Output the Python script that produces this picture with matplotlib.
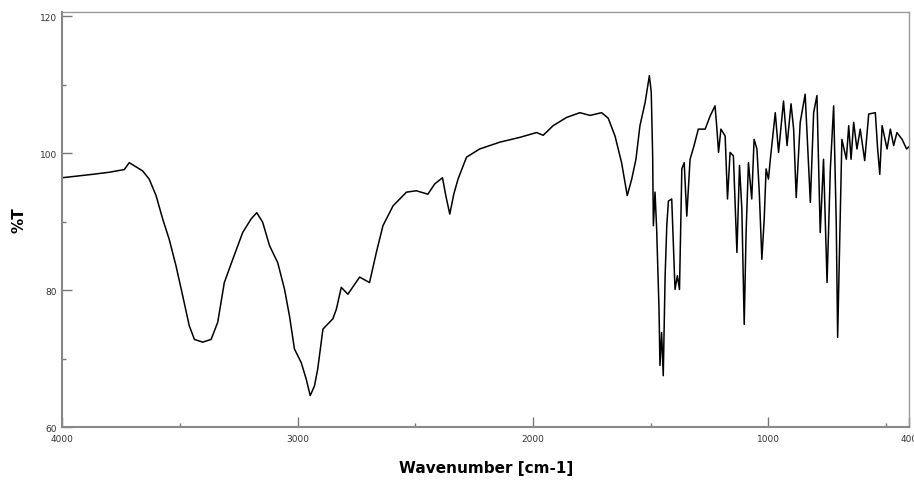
import matplotlib
matplotlib.use("Agg")
import matplotlib.pyplot as plt

# IR spectrum
wavenumber = [
    4000, 3871, 3800, 3736, 3715, 3658, 3630, 3601, 3573, 3545, 3516, 3488,
    3460, 3438, 3403, 3367, 3339, 3311, 3275, 3233, 3197, 3173, 3148, 3119,
    3084, 3055, 3034, 3013, 2984, 2963, 2946, 2928, 2914, 2892, 2864, 2850,
    2835, 2814, 2786, 2736, 2694, 2665, 2637, 2594, 2537, 2495, 2446, 2417,
    2384, 2370, 2353, 2336, 2318, 2282, 2226, 2140, 2055, 1984, 1956, 1914,
    1857, 1800, 1757, 1708, 1680, 1651, 1623, 1599, 1580, 1562, 1545, 1523,
    1505, 1497, 1491, 1488, 1481, 1474, 1464, 1460, 1453, 1446, 1438, 1431,
    1424, 1410, 1396, 1386, 1377, 1367, 1357, 1346, 1332, 1315, 1297, 1268,
    1247, 1226, 1219, 1211, 1201, 1183, 1173, 1162, 1148, 1133, 1122, 1112,
    1102, 1094, 1084, 1070, 1060, 1048, 1038, 1027, 1017, 1009, 999, 991,
    970, 956, 935, 920, 903, 892, 881, 864, 843, 821, 807, 793,
    779, 765, 750, 736, 722, 711, 705, 694, 687, 668, 658, 648,
    637, 623, 609, 590, 573, 545, 535, 526, 516, 495, 481, 467,
    453, 431, 412, 400,
]
transmittance = [
    96.4, 96.9, 97.2, 97.6, 98.6, 97.4, 96.2, 93.8, 90.4, 87.4, 83.5, 79.2,
    74.8, 72.8, 72.4, 72.8, 75.3, 81.1, 84.5, 88.4, 90.4, 91.3, 89.9, 86.5,
    84.0, 80.1, 76.2, 71.4, 69.4, 67.0, 64.6, 66.0, 68.5, 74.3, 75.3, 75.8,
    77.2, 80.4, 79.4, 81.9, 81.1, 85.5, 89.4, 92.3, 94.3, 94.5, 94.0, 95.5,
    96.4, 93.8, 91.1, 94.0, 96.2, 99.4, 100.6, 101.6, 102.3, 103.0, 102.6, 104.0,
    105.2, 105.9, 105.5, 105.9, 105.1, 102.5, 98.6, 93.8, 96.2, 99.1, 104.0, 107.4,
    111.3, 108.9, 99.6, 89.4, 94.3, 88.9, 77.2, 69.0, 73.8, 67.5, 82.1, 89.4,
    93.0, 93.3, 80.1, 82.1, 80.1, 97.7, 98.6, 90.8, 99.1, 101.1, 103.5, 103.5,
    105.4, 106.9, 104.0, 100.1, 103.5, 102.5, 93.3, 100.1, 99.6, 85.5, 98.2, 91.8,
    75.0, 88.4, 98.6, 93.3, 102.0, 100.6, 94.3, 84.5, 90.4, 97.7, 96.2, 99.1,
    105.9, 100.1, 107.6, 101.1, 107.2, 103.5, 93.5, 104.5, 108.6, 92.8, 105.9, 108.4,
    88.4, 99.1, 81.1, 97.7, 106.9, 89.9, 73.1, 90.4, 102.0, 99.1, 104.0, 99.1,
    104.5, 100.6, 103.5, 98.9, 105.7, 105.9, 100.6, 96.9, 104.0, 100.6, 103.5, 101.1,
    103.0, 102.0, 100.6, 101.0,
]

x_major = [4000, 3000, 2000, 1000, 400]
x_minor = [3500, 2500, 1500, 500]
y_major = [60, 80, 100, 120]
y_minor = [70, 90, 110]

fig = plt.figure(figsize=(9.14, 4.81), dpi=100)
ax = fig.add_axes([0.068, 0.110, 0.927, 0.863])

ax.plot(wavenumber, transmittance, color="black", linewidth=1.1)

ax.set_xlim(4000, 400)
ax.set_ylim(60, 120.6)

ax.set_xticks(x_major)
ax.set_xticks(x_minor, minor=True)
ax.set_yticks(y_major)
ax.set_yticks(y_minor, minor=True)

ax.tick_params(which="major", direction="in", length=7, width=1,
               color="#777777", labelsize=6.5, labelcolor="#333333")
ax.tick_params(which="minor", direction="in", length=3, width=1,
               color="#777777")
ax.tick_params(axis="x", pad=5)

for side in ["left", "bottom"]:
    ax.spines[side].set_color("#888888")
    ax.spines[side].set_linewidth(1.5)
for side in ["top", "right"]:
    ax.spines[side].set_color("#999999")
    ax.spines[side].set_linewidth(1.0)

ax.set_xlabel("Wavenumber [cm-1]", fontsize=11, fontweight="bold", labelpad=12)
ax.set_ylabel("%T", fontsize=11, fontweight="bold", labelpad=10)

fig.savefig("out.png", dpi=100)
